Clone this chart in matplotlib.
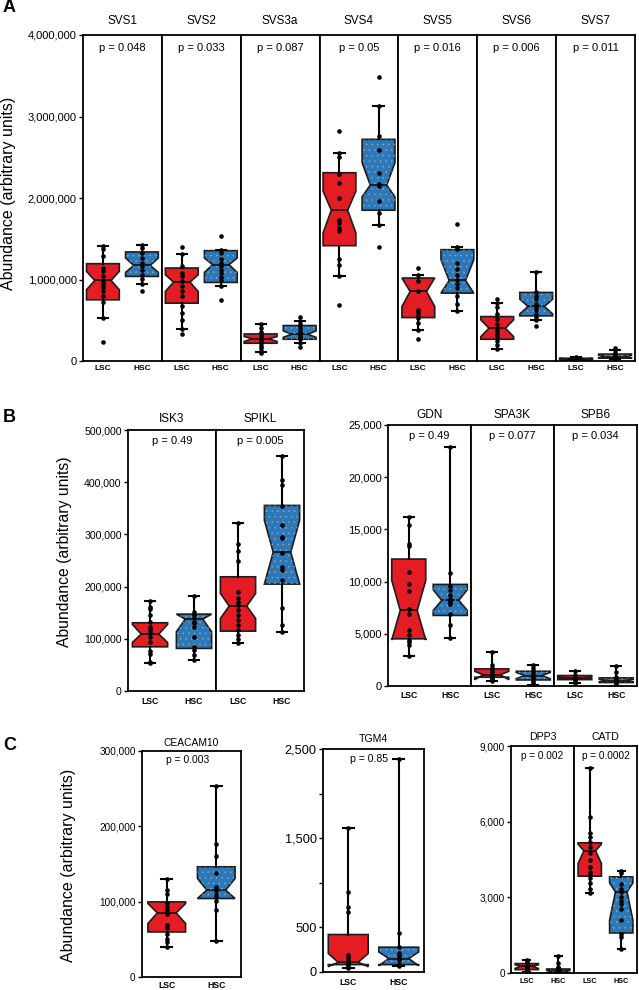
import matplotlib
matplotlib.use('Agg')
import matplotlib.pyplot as plt
from matplotlib.patches import PathPatch

plt.rcParams['font.family'] = ['Liberation Sans', 'DejaVu Sans']
plt.rcParams['hatch.linewidth'] = 0.3

# ---------------- data ----------------
GROUPS = ['LSC', 'HSC']
# box statistics, order: [whislo, q1, cilo, med, cihi, q3, whishi]

# Panel A (values in millions)
A_GENES = ['SVS1', 'SVS2', 'SVS3a', 'SVS4', 'SVS5', 'SVS6', 'SVS7']
A_PVALUES = ['p = 0.048', 'p = 0.033', 'p = 0.087', 'p = 0.05', 'p = 0.016', 'p = 0.006', 'p = 0.011']
SVS1_LSC = [0.529, 0.751, 0.874, 0.988, 1.100, 1.194, 1.415]
SVS1_HSC = [0.944, 1.038, 1.087, 1.173, 1.264, 1.338, 1.428]
SVS2_LSC = [0.390, 0.710, 0.853, 0.968, 1.058, 1.141, 1.313]
SVS2_HSC = [0.923, 0.964, 1.087, 1.182, 1.264, 1.354, 1.360]
SVS3A_LSC = [0.115, 0.218, 0.240, 0.271, 0.300, 0.332, 0.451]
SVS3A_HSC = [0.218, 0.267, 0.290, 0.328, 0.370, 0.435, 0.492]
SVS4_LSC = [1.046, 1.415, 1.571, 1.850, 2.084, 2.310, 2.548]
SVS4_HSC = [1.674, 1.850, 2.015, 2.158, 2.433, 2.720, 3.123]
SVS5_LSC = [0.382, 0.533, 0.669, 0.853, 1.018, 1.018, 1.055]
SVS5_HSC = [0.615, 0.833, 0.833, 0.988, 1.243, 1.366, 1.399]
SVS6_LSC = [0.144, 0.267, 0.299, 0.402, 0.505, 0.545, 0.710]
SVS6_HSC = [0.505, 0.554, 0.578, 0.669, 0.759, 0.841, 1.087]
SVS7_LSC = [0.008, 0.015, 0.018, 0.024, 0.030, 0.034, 0.045]
SVS7_HSC = [0.020, 0.035, 0.040, 0.055, 0.070, 0.085, 0.135]

SVS1_LSC_PTS = [1.415, 1.38, 1.284, 1.141, 1.10, 1.038, 0.976, 0.94, 0.907, 0.853, 0.792, 0.730, 0.529, 0.234]
SVS1_HSC_PTS = [1.428, 1.387, 1.325, 1.264, 1.202, 1.161, 1.112, 1.058, 1.005, 0.944, 0.862]
SVS2_LSC_PTS = [1.395, 1.313, 1.161, 1.079, 1.038, 0.976, 0.915, 0.853, 0.792, 0.669, 0.587, 0.505, 0.390, 0.328]
SVS2_HSC_PTS = [1.538, 1.360, 1.33, 1.25, 1.20, 1.17, 1.12, 1.08, 1.03, 0.99, 0.923, 0.751]
SVS3A_LSC_PTS = [0.451, 0.40, 0.36, 0.32, 0.30, 0.28, 0.26, 0.24, 0.22, 0.19, 0.16, 0.12, 0.10]
SVS3A_HSC_PTS = [0.545, 0.492, 0.46, 0.42, 0.39, 0.36, 0.34, 0.32, 0.30, 0.27, 0.218, 0.168]
SVS4_LSC_PTS = [2.822, 2.548, 2.50, 2.30, 2.187, 1.994, 1.735, 1.694, 1.633, 1.59, 1.252, 1.173, 1.046, 0.681]
SVS4_HSC_PTS = [3.483, 3.123, 2.761, 2.588, 2.31, 2.17, 2.15, 1.961, 1.817, 1.674, 1.399]
SVS5_LSC_PTS = [1.141, 1.058, 0.976, 0.853, 0.628, 0.607, 0.566, 0.525, 0.464, 0.382, 0.271]
SVS5_HSC_PTS = [1.682, 1.399, 1.37, 1.20, 1.13, 1.05, 0.99, 0.95, 0.90, 0.80, 0.70, 0.615]
SVS6_LSC_PTS = [0.763, 0.710, 0.66, 0.58, 0.52, 0.46, 0.41, 0.37, 0.33, 0.29, 0.25, 0.20, 0.144]
SVS6_HSC_PTS = [1.087, 0.85, 0.80, 0.76, 0.70, 0.66, 0.62, 0.58, 0.54, 0.505, 0.431]
SVS7_LSC_PTS = [0.045, 0.035, 0.030, 0.025, 0.020, 0.015, 0.010]
SVS7_HSC_PTS = [0.165, 0.135, 0.10, 0.08, 0.06, 0.05, 0.04, 0.03, 0.02]
A_YTICKS = [0, 1e6, 2e6, 3e6, 4e6]
A_YTICKLABELS = ['0', '1,000,000', '2,000,000', '3,000,000', '4,000,000']

# Panel B left (values in thousands)
BL_GENES = ['ISK3', 'SPIKL']
BL_PVALUES = ['p = 0.49', 'p = 0.005']
ISK3_LSC = [52.8, 84.7, 93.0, 109.0, 127.5, 130.7, 172.0]
ISK3_HSC = [59.2, 81.6, 113.4, 137.7, 147.3, 147.3, 182.4]
SPIKL_LSC = [92.4, 114.7, 139.0, 162.6, 187.0, 218.8, 322.0]
SPIKL_HSC = [113.4, 204.8, 204.8, 266.0, 327.0, 355.5, 450.0]
ISK3_LSC_PTS = [172.2, 161.3, 156.3, 145.4, 132.6, 123.0, 116.7, 110.3, 103.8, 94.3, 76.4, 70.7, 55.9, 52.8]
ISK3_HSC_PTS = [182.4, 151.7, 145.4, 139.1, 132.6, 129.5, 123.0, 103.8, 84.7, 78.3, 68.8, 59.2]
SPIKL_LSC_PTS = [322.2, 281.4, 268.6, 249.4, 190.0, 177.4, 170.9, 164.6, 155.0, 145.4, 135.8, 126.2, 116.7, 107.1, 98.8, 92.4]
SPIKL_HSC_PTS = [450.0, 404.0, 394.4, 354.2, 317.2, 295.4, 292.3, 263.6, 237.9, 231.6, 212.4, 158.2, 126.2, 113.4]
BL_YTICKS = [0, 100e3, 200e3, 300e3, 400e3, 500e3]
BL_YTICKLABELS = ['0', '100,000', '200,000', '300,000', '400,000', '500,000']

# Panel B right (values in thousands)
BR_GENES = ['GDN', 'SPA3K', 'SPB6']
BR_PVALUES = ['p = 0.49', 'p = 0.077', 'p = 0.034']
GDN_LSC = [2.92, 4.52, 4.40, 7.24, 10.12, 12.16, 16.2]
GDN_HSC = [4.62, 6.76, 7.24, 8.20, 9.22, 9.73, 22.86]
SPA3K_LSC = [0.52, 0.84, 0.60, 1.09, 1.40, 1.64, 3.24]
SPA3K_HSC = [0.05, 0.58, 0.70, 1.00, 1.30, 1.41, 2.05]
SPB6_LSC = [0.30, 0.61, 0.70, 0.78, 0.86, 1.00, 1.41]
SPB6_HSC = [0.00, 0.33, 0.40, 0.52, 0.64, 0.78, 1.89]
GDN_LSC_PTS = [16.2, 15.4, 13.64, 13.41, 10.92, 9.8, 9.09, 7.4, 6.92, 5.39, 4.84, 4.42, 4.19, 3.93, 2.92]
GDN_HSC_PTS = [22.86, 10.82, 9.54, 9.16, 8.68, 8.36, 8.2, 8.04, 7.88, 6.92, 5.87, 4.62]
SPA3K_LSC_PTS = [3.24, 2.0, 1.7, 1.5, 1.3, 1.1, 1.0, 0.9, 0.8, 0.65, 0.52]
SPA3K_HSC_PTS = [2.05, 1.7, 1.4, 1.2, 1.0, 0.8, 0.6, 0.4, 0.2, 0.05]
SPB6_LSC_PTS = [1.41, 1.1, 0.9, 0.8, 0.75, 0.65, 0.5, 0.3]
SPB6_HSC_PTS = [1.89, 1.3, 0.9, 0.7, 0.55, 0.45, 0.35, 0.2, 0.05]
BR_YTICKS = [0, 5e3, 10e3, 15e3, 20e3, 25e3]
BR_YTICKLABELS = ['0', '5,000', '10,000', '15,000', '20,000', '25,000']

# Panel C
CEACAM10_LSC = [39.9, 59.8, 71.0, 85.1, 97.5, 99.7, 129.9]          # thousands
CEACAM10_HSC = [47.9, 104.2, 104.2, 115.3, 130.8, 146.3, 254.0]
CEACAM10_LSC_PTS = [129.9, 115.3, 110.0, 97.6, 93.1, 88.7, 85.1, 83.4, 68.7, 65.7, 57.7, 51.0, 46.5, 39.9]
CEACAM10_HSC_PTS = [254.0, 176.0, 160.5, 138.3, 119.7, 115.3, 110.8, 106.4, 101.0, 88.7, 47.9]
CEACAM10_P = 'p = 0.003'
CEACAM10_YTICKS = [0, 100e3, 200e3, 300e3]
CEACAM10_YTICKLABELS = ['0', '100,000', '200,000', '300,000']

TGM4_LSC = [49, 83, 60, 109, 207, 420, 1619]
TGM4_HSC = [68, 83, 70, 151, 225, 278, 2392]
TGM4_LSC_PTS = [1619, 893, 724, 668, 188, 169, 132, 101, 75, 56, 49]
TGM4_HSC_PTS = [2392, 439, 281, 214, 188, 162, 132, 94, 68]
TGM4_P = 'p = 0.85'
TGM4_YTICKS = [0, 500, 1000, 1500, 2000, 2500]
TGM4_YTICKLABELS = ['0', '500', '', '1,500', '', '2,500']

CR_GENES = ['DPP3', 'CATD']
CR_PVALUES = ['p = 0.002', 'p = 0.0002']
DPP3_LSC = [40, 135, 180, 265, 330, 373, 532]
DPP3_HSC = [0, 0, 20, 67, 120, 159, 663]
CATD_LSC = [3176, 3839, 4343, 4843, 5109, 5161, 8139]
CATD_HSC = [969, 1588, 2092, 3216, 3573, 3811, 4050]
DPP3_LSC_PTS = [532, 450, 380, 320, 280, 250, 200, 160, 120, 80, 40]
DPP3_HSC_PTS = [663, 400, 250, 180, 140, 100, 70, 50, 30, 10, 0]
CATD_LSC_PTS = [8139, 6170, 5535, 5400, 5201, 5002, 4740, 4474, 4208, 4010, 3879, 3747, 3549, 3350, 3176]
CATD_HSC_PTS = [4050, 3946, 3510, 3311, 3216, 3017, 2858, 2755, 2557, 2092, 1564, 1429, 969]
CR_YTICKS = [0, 3000, 6000, 9000]
CR_YTICKLABELS = ['0', '3,000', '6,000', '9,000']

# ---------------- style ----------------
RED = '#e31d23'
BLUE = '#2a79bd'
STIPPLE = '#e8a868'
W, H = 639, 990
PX = 0.72  # points per pixel at 100 dpi

fig = plt.figure(figsize=(W / 100, H / 100), dpi=100)


def add_ax(x0, x1, ytop, ybot):
    return fig.add_axes([x0 / W, 1 - ybot / H, (x1 - x0) / W, (ybot - ytop) / H])


def draw_pair(ax, lsc, hsc, lsc_pts, hsc_pts, scale, ylim, xlim=(0.49, 2.51),
              width=0.84, capw=0.26, lab_fs=6.0, lab_pad=3):
    stats = []
    for s in (lsc, hsc):
        wl, q1, cl, md, ch, q3, wh = [v * scale for v in s]
        stats.append(dict(whislo=wl, q1=q1, cilo=cl, med=md, cihi=ch, q3=q3,
                          whishi=wh, fliers=[]))
    art = ax.bxp(stats, positions=[1, 2], widths=width, shownotches=True,
                 showfliers=False, patch_artist=True, capwidths=capw,
                 manage_ticks=False,
                 boxprops=dict(edgecolor='#1c1c1c', linewidth=1.2),
                 whiskerprops=dict(color='black', linewidth=1.5),
                 capprops=dict(color='black', linewidth=1.5),
                 medianprops=dict(color='#111111', linewidth=1.2))
    art['boxes'][0].set_facecolor(RED)
    art['boxes'][1].set_facecolor(BLUE)
    for wsk in art['whiskers'] + art['caps']:
        wsk.set_zorder(3)
    ov = PathPatch(art['boxes'][1].get_path(), facecolor='none', edgecolor=STIPPLE,
                   hatch='...', linewidth=0, zorder=2.5, alpha=0.8)
    ax.add_patch(ov)
    ax.scatter([1] * len(lsc_pts), [v * scale for v in lsc_pts], s=11, color='black',
               zorder=4, linewidths=0)
    ax.scatter([2] * len(hsc_pts), [v * scale for v in hsc_pts], s=11, color='black',
               zorder=4, linewidths=0)
    ax.set_xlim(*xlim)
    ax.set_ylim(*ylim)
    ax.set_xticks([1, 2])
    ax.set_xticklabels(GROUPS, fontsize=lab_fs, fontweight='bold')
    ax.tick_params(axis='x', length=0, pad=lab_pad)
    for sp in ax.spines.values():
        sp.set_linewidth(1.3)
        sp.set_color('black')


def head(ax, title, ptxt, fs_t, fs_p, t_off, p_off, p_dx=0):
    ax.annotate(title, xy=(0.5, 1), xycoords='axes fraction', xytext=(0, t_off * PX),
                textcoords='offset points', ha='center', va='center', fontsize=fs_t)
    ax.annotate(ptxt, xy=(0.5, 1), xycoords='axes fraction', xytext=(p_dx * PX, -p_off * PX),
                textcoords='offset points', ha='center', va='center', fontsize=fs_p)


def yaxis(ax, ticks, labels, fs, show=True):
    ax.set_yticks(ticks)
    if show:
        ax.set_yticklabels(labels, fontsize=fs)
        ax.tick_params(axis='y', length=3, width=1.0, pad=1.5, direction='out')
    else:
        ax.tick_params(axis='y', left=False, labelleft=False)


# ---------------- Panel A ----------------
A_PAIRS = [(SVS1_LSC, SVS1_HSC, SVS1_LSC_PTS, SVS1_HSC_PTS),
           (SVS2_LSC, SVS2_HSC, SVS2_LSC_PTS, SVS2_HSC_PTS),
           (SVS3A_LSC, SVS3A_HSC, SVS3A_LSC_PTS, SVS3A_HSC_PTS),
           (SVS4_LSC, SVS4_HSC, SVS4_LSC_PTS, SVS4_HSC_PTS),
           (SVS5_LSC, SVS5_HSC, SVS5_LSC_PTS, SVS5_HSC_PTS),
           (SVS6_LSC, SVS6_HSC, SVS6_LSC_PTS, SVS6_HSC_PTS),
           (SVS7_LSC, SVS7_HSC, SVS7_LSC_PTS, SVS7_HSC_PTS)]
a_left, a_right = 83, 635
a_w = (a_right - a_left) / len(A_GENES)
for i, (gene, pv, pair) in enumerate(zip(A_GENES, A_PVALUES, A_PAIRS)):
    ax = add_ax(a_left + i * a_w, a_left + (i + 1) * a_w, 35, 361)
    draw_pair(ax, *pair, scale=1e6, ylim=(0, 4e6), lab_fs=6.0, lab_pad=3)
    yaxis(ax, A_YTICKS, A_YTICKLABELS, 8, show=(i == 0))
    head(ax, gene, pv, 8.5, 8, 13.5, 13)

# ---------------- Panel B left ----------------
BL_PAIRS = [(ISK3_LSC, ISK3_HSC, ISK3_LSC_PTS, ISK3_HSC_PTS),
            (SPIKL_LSC, SPIKL_HSC, SPIKL_LSC_PTS, SPIKL_HSC_PTS)]
bl_edges = [128, 216, 304]
for i, (gene, pv, pair) in enumerate(zip(BL_GENES, BL_PVALUES, BL_PAIRS)):
    ax = add_ax(bl_edges[i], bl_edges[i + 1], 430, 691)
    draw_pair(ax, *pair, scale=1e3, ylim=(0, 500e3), xlim=(0.5, 2.5), width=0.8,
              capw=0.24, lab_fs=6.2, lab_pad=4.5)
    yaxis(ax, BL_YTICKS, BL_YTICKLABELS, 7.6, show=(i == 0))
    head(ax, gene, pv, 8.5, 8, 11, 11)

# ---------------- Panel B right ----------------
BR_PAIRS = [(GDN_LSC, GDN_HSC, GDN_LSC_PTS, GDN_HSC_PTS),
            (SPA3K_LSC, SPA3K_HSC, SPA3K_LSC_PTS, SPA3K_HSC_PTS),
            (SPB6_LSC, SPB6_HSC, SPB6_LSC_PTS, SPB6_HSC_PTS)]
br_edges = [388, 471, 554, 637]
for i, (gene, pv, pair) in enumerate(zip(BR_GENES, BR_PVALUES, BR_PAIRS)):
    ax = add_ax(br_edges[i], br_edges[i + 1], 425, 686)
    draw_pair(ax, *pair, scale=1e3, ylim=(0, 25e3), xlim=(0.5, 2.5), width=0.82,
              capw=0.24, lab_fs=6.2, lab_pad=3.5)
    yaxis(ax, BR_YTICKS, BR_YTICKLABELS, 8, show=(i == 0))
    head(ax, gene, pv, 8.5, 8, 10, 11)

# ---------------- Panel C ----------------
ax = add_ax(142, 241, 751, 977)
draw_pair(ax, CEACAM10_LSC, CEACAM10_HSC, CEACAM10_LSC_PTS, CEACAM10_HSC_PTS,
          scale=1e3, ylim=(0, 300e3), xlim=(0.5, 2.5), width=0.76, capw=0.22,
          lab_fs=6.2, lab_pad=3)
yaxis(ax, CEACAM10_YTICKS, CEACAM10_YTICKLABELS, 7.2)
head(ax, 'CEACAM10', CEACAM10_P, 7.4, 7.4, 8.5, 9, p_dx=-4)

ax = add_ax(323, 424, 749, 972)
draw_pair(ax, TGM4_LSC, TGM4_HSC, TGM4_LSC_PTS, TGM4_HSC_PTS,
          scale=1, ylim=(0, 2500), xlim=(0.5, 2.5), width=0.79, capw=0.22,
          lab_fs=6.2, lab_pad=4.5)
yaxis(ax, TGM4_YTICKS, TGM4_YTICKLABELS, 9.2)
head(ax, 'TGM4', TGM4_P, 7.6, 7.6, 10, 10, p_dx=-4)

CR_PAIRS = [(DPP3_LSC, DPP3_HSC, DPP3_LSC_PTS, DPP3_HSC_PTS),
            (CATD_LSC, CATD_HSC, CATD_LSC_PTS, CATD_HSC_PTS)]
cr_edges = [511, 574, 637]
for i, (gene, pv, pair) in enumerate(zip(CR_GENES, CR_PVALUES, CR_PAIRS)):
    ax = add_ax(cr_edges[i], cr_edges[i + 1], 746, 973)
    draw_pair(ax, *pair, scale=1, ylim=(0, 9000), xlim=(0.5, 2.5), width=0.74,
              capw=0.22, lab_fs=5.2, lab_pad=3.5)
    yaxis(ax, CR_YTICKS, CR_YTICKLABELS, 7.2, show=(i == 0))
    head(ax, gene, pv, 7.6, 7.2, 9.5, 10)

# ---------------- labels ----------------
def ftext(x, y, s, **kw):
    fig.text(x / W, 1 - y / H, s, **kw)

YL = 'Abundance (arbitrary units)'
ftext(9, 193, YL, rotation=90, ha='center', va='center', fontsize=11.5)
ftext(65, 552, YL, rotation=90, ha='center', va='center', fontsize=11.3)
ftext(68, 865, YL, rotation=90, ha='center', va='center', fontsize=11.5)
ftext(3, 8, 'A', fontsize=13, fontweight='bold', ha='left', va='center')
ftext(3, 418, 'B', fontsize=13, fontweight='bold', ha='left', va='center')
ftext(3, 745, 'C', fontsize=13, fontweight='bold', ha='left', va='center')

fig.savefig('out.png', dpi=100)
